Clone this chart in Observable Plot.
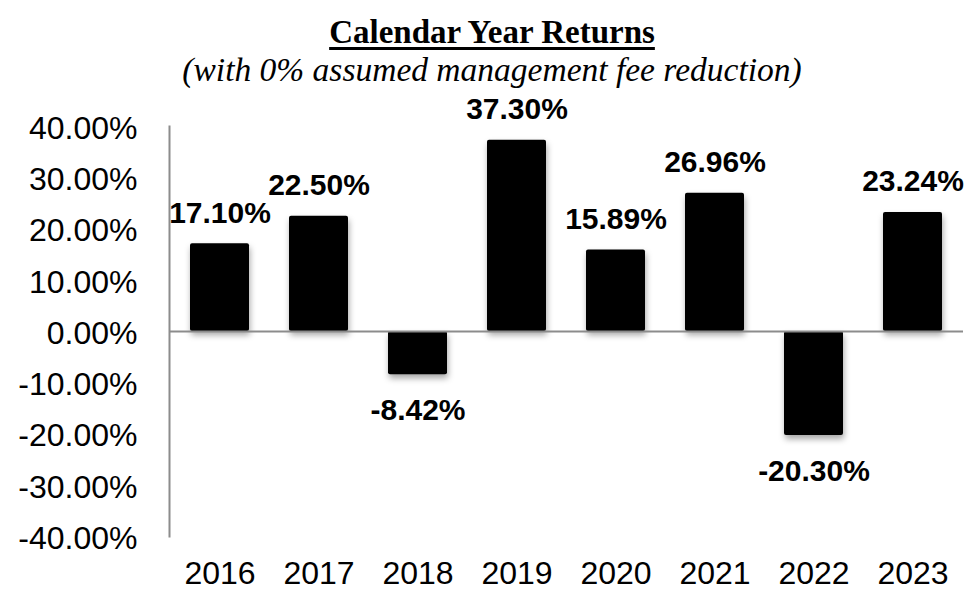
<!DOCTYPE html>
<html>
<head>
<meta charset="utf-8">
<script src="https://cdn.jsdelivr.net/npm/d3@7"></script>
<script src="https://cdn.jsdelivr.net/npm/@observablehq/plot@0.6"></script>
<style>
  html, body { margin: 0; padding: 0; background: #fff; }
  #wrap { width: 968px; height: 591px; }
  #header { height: 90px; box-sizing: border-box; padding-top: 14px; padding-left: 16px; text-align: center; font-family: "Liberation Serif", "Times New Roman", serif; color: #000; }
  #title { font-size: 33px; font-weight: bold; line-height: 37px; text-decoration: underline; text-decoration-thickness: 2.5px; text-underline-offset: 4px; }
  #subtitle { font-size: 33.5px; font-style: italic; line-height: 37px; }
  svg { overflow: visible; display: block; }
</style>
</head>
<body>
<div id="wrap">
  <div id="header">
    <div id="title">Calendar Year Returns</div>
    <div id="subtitle">(with 0% assumed management fee reduction)</div>
  </div>
  <div id="chart"></div>
</div>
<script>
const years = ["2016", "2017", "2018", "2019", "2020", "2021", "2022", "2023"];
const returns = [17.10, 22.50, -8.42, 37.30, 15.89, 26.96, -20.30, 23.24];
const yTicks = [-40, -30, -20, -10, 0, 10, 20, 30, 40];

const data = years.map((year, i) => ({year, value: returns[i]}));
const fmt = v => v.toFixed(2) + "%";

const svg = Plot.plot({
  width: 968,
  height: 501,
  marginLeft: 169,
  marginRight: 5,
  marginTop: 36,
  marginBottom: 55,
  x: {domain: years, paddingInner: 0.405, paddingOuter: 0.2, axis: null},
  y: {domain: [-40, 40], axis: null},
  style: {fontFamily: "'Liberation Sans', Arial, sans-serif", fontSize: "32px", color: "#000", background: "#fff", overflow: "visible"},
  marks: [
    Plot.barY(data, {x: "year", y: "value", fill: "#000", rx: 2}),
    Plot.ruleY([0], {stroke: "#8c8c8c", strokeWidth: 2}),
    Plot.frame({anchor: "left", stroke: "#8c8c8c", strokeWidth: 2}),
    Plot.axisY({ticks: yTicks, tickSize: 0, tickPadding: 32, tickFormat: fmt, fontSize: 32, label: null, dy: 2}),
    Plot.axisX({tickSize: 0, tickPadding: 25, fontSize: 32, label: null}),
    Plot.text(data, {filter: d => d.value >= 0, x: "year", y: "value", text: d => fmt(d.value), lineAnchor: "bottom", dy: -21, fontSize: 30, fontWeight: "bold", fill: "#000"}),
    Plot.text(data, {filter: d => d.value < 0, x: "year", y: "value", text: d => fmt(d.value), lineAnchor: "bottom", dy: 45, fontSize: 30, fontWeight: "bold", fill: "#000"})
  ]
});
d3.select(svg).select('g[aria-label="bar"]').style("filter", "drop-shadow(1px 4px 3px rgba(0,0,0,0.35))");
document.getElementById("chart").appendChild(svg);
</script>
</body>
</html>
